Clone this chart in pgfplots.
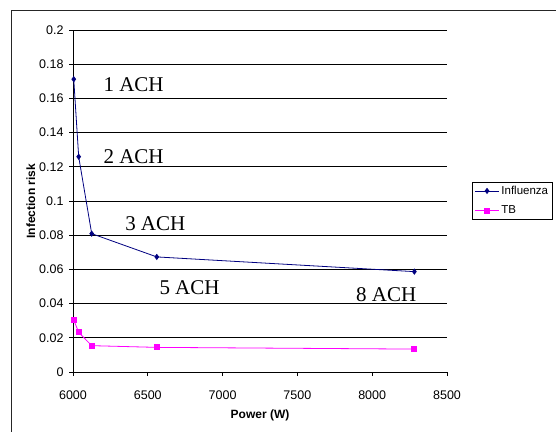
\documentclass[border=0pt]{standalone}
\usepackage{fontspec}
\setmainfont{Liberation Sans}
\newfontfamily\seriffont{Liberation Serif}
\usepackage{pgfplots}
\pgfplotsset{compat=1.18}
\definecolor{navyline}{RGB}{0,0,128}
\definecolor{magline}{RGB}{255,0,255}
\begin{document}
\begin{tikzpicture}[x=1pt,y=1pt]
\useasboundingbox (0,0) rectangle (556,431);
\draw[line width=1pt,black!85] (11,-2) -- (11,420) -- (558,420);
\begin{axis}[
  at={(73pt,59pt)}, anchor=south west,
  scale only axis, width=374pt, height=342pt,
  xmin=6000, xmax=8500, ymin=0, ymax=0.2,
  axis lines*=left,
  axis line style={line width=0.8pt},
  xtick={6000,6500,7000,7500,8000,8500},
  xticklabels={6000,6500,7000,7500,8000,8500},
  ytick={0,0.02,0.04,0.06,0.08,0.1,0.12,0.14,0.16,0.18,0.2},
  yticklabels={0,0.02,0.04,0.06,0.08,0.1,0.12,0.14,0.16,0.18,0.2},
  tick align=outside, major tick length=4pt,
  tick style={black, line width=0.8pt},
  ymajorgrids, major grid style={black, line width=0.8pt},
  ticklabel style={font=\fontsize{12.5}{14}\selectfont},
  xticklabel style={yshift=-11pt},
  yticklabel style={xshift=-2pt},
  xlabel={\bfseries Power (W)},
  ylabel={\bfseries Infection risk},
  label style={font=\fontsize{12}{14}\selectfont},
  xlabel style={yshift=-4pt},
  ylabel style={yshift=-3pt},
  clip=false,
  legend style={at={(axis description cs:1.0677,0.5564)}, anchor=north west,
    draw=black, line width=0.6pt, font=\fontsize{11.5}{13}\selectfont,
    inner xsep=2pt, inner ysep=2pt, row sep=6pt, cells={anchor=west}},
  legend image code/.code={\draw[mark repeat=2,mark phase=2,#1] plot coordinates {(0pt,0pt) (12pt,0pt) (24pt,0pt)};},
]
\addplot[navyline, line width=0.8pt, mark=diamond*, mark size=2.5pt, mark options={fill=navyline, draw=navyline}]
  coordinates {(6005,0.1712) (6038,0.1259) (6125,0.0809) (6560,0.0673) (8282,0.0587)};
\addlegendentry{Influenza}
\addplot[magline, line width=0.8pt, mark=square*, mark size=2.5pt, mark options={fill=magline, draw=magline}]
  coordinates {(6005,0.0304) (6038,0.0232) (6125,0.0154) (6560,0.0144) (8282,0.0134)};
\addlegendentry{TB}
\node[font=\seriffont\fontsize{21}{23}\selectfont, anchor=base west, inner sep=0pt] at (axis cs:6203,0.1639) {1 ACH};
\node[font=\seriffont\fontsize{21}{23}\selectfont, anchor=base west, inner sep=0pt] at (axis cs:6203,0.1220) {2 ACH};
\node[font=\seriffont\fontsize{21}{23}\selectfont, anchor=base west, inner sep=0pt] at (axis cs:6348,0.0826) {3 ACH};
\node[font=\seriffont\fontsize{21}{23}\selectfont, anchor=base west, inner sep=0pt] at (axis cs:6577,0.0456) {5 ACH};
\node[font=\seriffont\fontsize{21}{23}\selectfont, anchor=base west, inner sep=0pt] at (axis cs:7892,0.0413) {8 ACH};
\end{axis}
\end{tikzpicture}
\end{document}
